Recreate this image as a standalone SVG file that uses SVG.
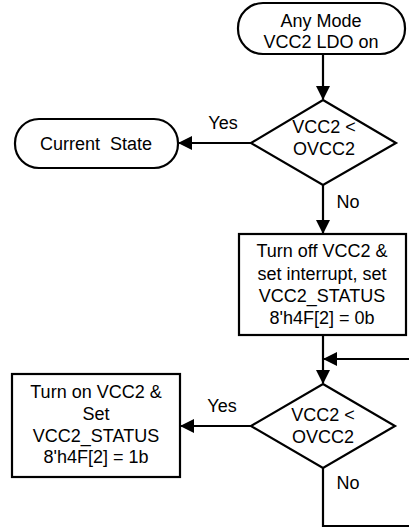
<svg xmlns="http://www.w3.org/2000/svg" width="409" height="529" viewBox="0 0 409 529">
<style>
.s{fill:#fff;stroke:#000;stroke-width:2.2}
.c{fill:none;stroke:#000;stroke-width:2.2}
text{font-family:"Liberation Sans",Arial,sans-serif;font-size:18px;fill:#000;text-anchor:middle}
.l{text-anchor:start}
</style>
<defs>
<marker id="ah" markerUnits="userSpaceOnUse" markerWidth="14" markerHeight="14" viewBox="0 0 14 14" refX="13" refY="7" orient="auto">
<path d="M0,0 L14,7 L0,14 Z" fill="#000"/>
</marker>
</defs>
<g id="connectors">
<path class="c" d="M323,55 V99" marker-end="url(#ah)"/>
<path class="c" d="M251,143 H179" marker-end="url(#ah)"/>
<path class="c" d="M323,185 V233" marker-end="url(#ah)"/>
<path class="c" d="M323,335 V383" marker-end="url(#ah)"/>
<path class="c" d="M251,426 H181" marker-end="url(#ah)"/>
<path class="c" d="M323,468 V526 H412 V359 H324" marker-end="url(#ah)"/>
<text x="223" y="129">Yes</text>
<text x="348" y="208">No</text>
<text x="222" y="412">Yes</text>
<text x="348" y="489">No</text>
</g>
<g id="start">
<rect class="s" x="238" y="3" width="167" height="51" rx="25" ry="25"/>
<text x="321" y="27">Any Mode</text>
<text x="321" y="48">VCC2 LDO on</text>
</g>
<g id="decision1">
<polygon class="s" points="323,100 396,143 323,185 251,143"/>
<text x="324" y="133">VCC2 &lt;</text>
<text x="324" y="155">OVCC2</text>
</g>
<g id="current">
<rect class="s" x="15" y="119" width="163" height="49" rx="24" ry="24"/>
<text x="96" y="150" xml:space="preserve">Current  State</text>
</g>
<g id="turnoff">
<rect class="s" x="239" y="234" width="167" height="101"/>
<text x="322" y="257">Turn off VCC2 &amp;</text>
<text x="322" y="279.5">set interrupt, set</text>
<text x="322" y="302">VCC2_STATUS</text>
<text x="322" y="324">8'h4F[2] = 0b</text>
</g>
<g id="decision2">
<polygon class="s" points="323,384 395,426 323,468 251,426"/>
<text x="323" y="421">VCC2 &lt;</text>
<text x="323" y="443">OVCC2</text>
</g>
<g id="turnon">
<rect class="s" x="12" y="374" width="168" height="103"/>
<text x="96" y="398">Turn on VCC2 &amp;</text>
<text x="96" y="420">Set</text>
<text x="96" y="442">VCC2_STATUS</text>
<text x="96" y="463">8'h4F[2] = 1b</text>
</g>
</svg>
